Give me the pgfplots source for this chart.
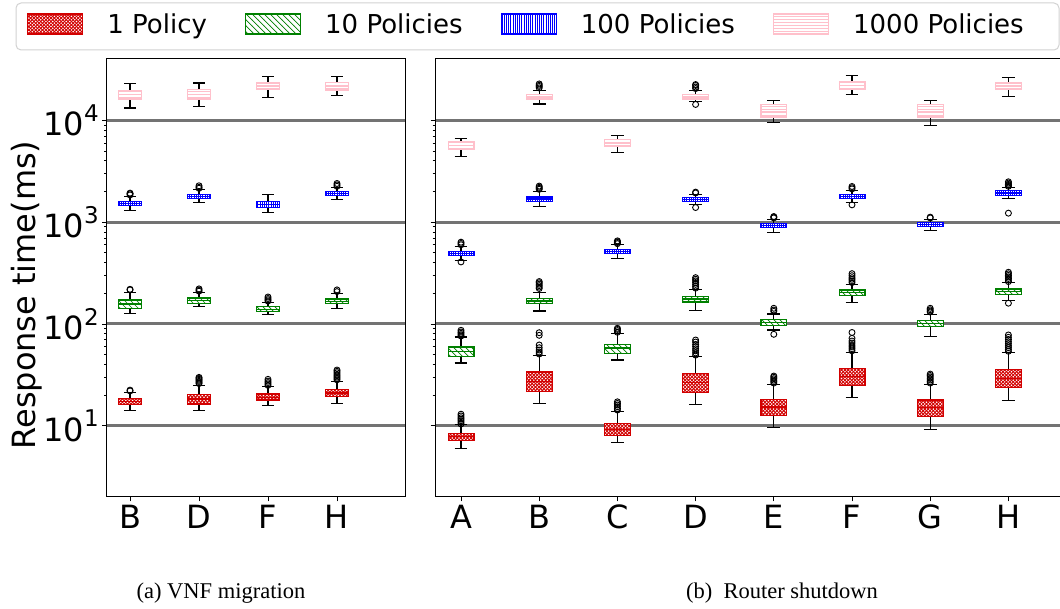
\documentclass[border=0pt]{standalone}
\usepackage{fontspec}
\setmainfont{DejaVu Sans}
\newfontfamily\capfont{Liberation Serif}
\usepackage{pgfplots}
\pgfplotsset{compat=1.18}
\usetikzlibrary{patterns}

\definecolor{pRed}{RGB}{210,0,0}
\definecolor{pGreen}{RGB}{0,128,0}
\definecolor{pBlue}{RGB}{0,0,255}
\definecolor{pPink}{RGB}{255,192,203}
\definecolor{gridgray}{RGB}{115,115,115}
\definecolor{legframe}{RGB}{210,210,210}

% hatch patterns
\pgfdeclarepatternformonly{wdots}{\pgfqpoint{-1pt}{-1pt}}{\pgfqpoint{4.4pt}{4.4pt}}{\pgfqpoint{3.4pt}{3.4pt}}{%
  \pgfpathcircle{\pgfqpoint{0pt}{0pt}}{0.85pt}%
  \pgfpathcircle{\pgfqpoint{1.7pt}{1.7pt}}{0.85pt}%
  \pgfusepath{fill}}
\pgfdeclarepatternformonly{widenw}{\pgfqpoint{-1pt}{-1pt}}{\pgfqpoint{7pt}{7pt}}{\pgfqpoint{6pt}{6pt}}{%
  \pgfsetlinewidth{0.7pt}%
  \pgfpathmoveto{\pgfqpoint{0pt}{6pt}}\pgfpathlineto{\pgfqpoint{6.1pt}{-0.1pt}}%
  \pgfusepath{stroke}}
\pgfdeclarepatternformonly{densev}{\pgfpointorigin}{\pgfqpoint{1pt}{100sp}}{\pgfqpoint{2.2pt}{100sp}}{%
  \pgfsetlinewidth{1pt}%
  \pgfpathmoveto{\pgfqpoint{0.5pt}{0pt}}\pgfpathlineto{\pgfqpoint{0.5pt}{100sp}}%
  \pgfusepath{stroke}}
\pgfdeclarepatternformonly{denseh}{\pgfpointorigin}{\pgfqpoint{100sp}{1pt}}{\pgfqpoint{100sp}{3pt}}{%
  \pgfsetlinewidth{0.8pt}%
  \pgfpathmoveto{\pgfqpoint{0pt}{0.5pt}}\pgfpathlineto{\pgfqpoint{100sp}{0.5pt}}%
  \pgfusepath{stroke}}

% fills of the four policy counts
\tikzset{
  redbox/.style={draw=pRed, line width=1.2pt, fill=pRed, postaction={pattern=wdots, pattern color=white}},
  greenbox/.style={draw=pGreen, line width=1.2pt, fill=white, postaction={pattern=widenw, pattern color=pGreen}},
  bluebox/.style={draw=pBlue, line width=1.2pt, fill=white, postaction={pattern=densev, pattern color=pBlue}},
  pinkbox/.style={draw=pPink, line width=1.2pt, fill=white, postaction={pattern=denseh, pattern color=pPink}},
  redmed/.style={draw=pRed, line width=1.2pt},
  greenmed/.style={draw=pGreen, line width=1.2pt},
  bluemed/.style={draw=pBlue, line width=1.2pt},
  pinkmed/.style={draw=pPink, line width=1.2pt},
}
\pgfplotsset{
  whisk/.style={black, line width=1.1pt, mark=none},
  flier/.style={only marks, mark=o, mark size=3pt, mark options={black, line width=0.9pt}},
}

% one box: colour, position, lower whisker, Q1, median, Q3, upper whisker
\newcommand{\bx}[7]{%
  \pgfmathsetmacro{\bxL}{#2-\bw}\pgfmathsetmacro{\bxR}{#2+\bw}%
  \pgfmathsetmacro{\cpL}{#2-\cw}\pgfmathsetmacro{\cpR}{#2+\cw}%
  \addplot[whisk] coordinates {(#2,#3) (#2,#4)};
  \addplot[whisk] coordinates {(#2,#6) (#2,#7)};
  \addplot[whisk] coordinates {(\cpL,#3) (\cpR,#3)};
  \addplot[whisk] coordinates {(\cpL,#7) (\cpR,#7)};
  \addplot[#1box, mark=none] coordinates {(\bxL,#4) (\bxR,#4) (\bxR,#6) (\bxL,#6)} -- cycle;
  \addplot[#1med, mark=none] coordinates {(\bxL,#5) (\bxR,#5)};
}
\newcommand{\ex}[1]{\raisebox{0.45em}{\fontsize{23}{23}\selectfont #1}}

\begin{document}
\begin{tikzpicture}
\useasboundingbox (0,0) rectangle (1060pt,608pt);

% legend frame
\draw[legframe, line width=1pt, rounded corners=5pt, fill=white] (16pt,558pt) rectangle (1059pt,605pt);

% (a) VNF migration
\def\bw{0.17}\def\cw{0.085}
\begin{axis}[
  scale only axis, height=438pt,
  ymode=log, ymin=2, ymax=40000,
  ytick={10,100,1000,10000},
  ymajorgrids, major grid style={line width=3pt, gridgray},
  tick align=outside, xtick pos=left, ytick pos=left,
  major tick length=4.5pt, minor tick length=2.5pt,
  tick style={black, line width=0.8pt},
  axis line style={black, line width=1pt},
  ticklabel style={font=\fontsize{32}{36}\selectfont},
  at={(106.7pt,111pt)}, anchor=south west, width=298.6pt,
  xmin=0.662, xmax=4.99,
  xtick={1,2,3,4}, xticklabels={B,D,F,H},
  yticklabels={10\ex{1},10\ex{2},10\ex{3},10\ex{4}},
  legend columns=4,
  legend style={at={(axis description cs:-0.2669,1.0799)}, anchor=west,
    draw=none, fill=none, inner sep=0pt,
    font=\fontsize{26}{30}\selectfont,
    /tikz/every odd column/.append style={column sep=22pt},
    /tikz/every even column/.append style={column sep=36pt}},
]
\addlegendimage{legend image code/.code={\draw[redbox] (0pt,-10pt) rectangle (55pt,10pt);}}
\addlegendentry{1 Policy}
\addlegendimage{legend image code/.code={\draw[greenbox] (0pt,-10pt) rectangle (55pt,10pt);}}
\addlegendentry{10 Policies}
\addlegendimage{legend image code/.code={\draw[bluebox] (0pt,-10pt) rectangle (55pt,10pt);}}
\addlegendentry{100 Policies}
\addlegendimage{legend image code/.code={\draw[pinkbox] (0pt,-10pt) rectangle (55pt,10pt);}}
\addlegendentry{1000 Policies}

% B
\bx{red}{1}{14.0}{16.1}{17.2}{18.4}{21.3}
\addplot[flier] coordinates {(1,22.0) (1,22.4)};
\bx{green}{1}{127}{141}{157}{172}{203}
\addplot[flier] coordinates {(1,216) (1,219)};
\bx{blue}{1}{1300}{1445}{1514}{1583}{1786}
\addplot[flier] coordinates {(1,1850) (1,1900) (1,1927)};
\bx{pink}{1}{13210}{16200}{17850}{19690}{23060}
% D
\bx{red}{2}{14.0}{16.4}{18.3}{20.4}{25.1}
\addplot[flier] coordinates {(2,26.0) (2,26.6) (2,27.3) (2,28.0) (2,28.7) (2,29.4) (2,29.9)};
\bx{green}{2}{147}{158}{169}{180}{205}
\addplot[flier] coordinates {(2,210) (2,215) (2,221)};
\bx{blue}{2}{1573}{1706}{1795}{1884}{2093}
\addplot[flier] coordinates {(2,2150) (2,2200) (2,2275)};
\bx{pink}{2}{13710}{16200}{17850}{20000}{23270}
% F
\bx{red}{3}{15.9}{17.9}{19.1}{20.5}{24.2}
\addplot[flier] coordinates {(3,25.0) (3,25.8) (3,26.6) (3,27.5) (3,28.6)};
\bx{green}{3}{123}{133}{140}{148}{162}
\addplot[flier] coordinates {(3,168) (3,173) (3,178) (3,184)};
\bx{blue}{3}{1254}{1392}{1490}{1594}{1854}
\bx{pink}{3}{16680}{20140}{21400}{23270}{26680}
% H
\bx{red}{4}{16.7}{19.3}{21.0}{22.8}{27.5}
\addplot[flier] coordinates {(4,28.3) (4,29.2) (4,30.1) (4,31.0) (4,32.0) (4,33.2) (4,34.3) (4,35.3)};
\bx{green}{4}{143}{158}{167}{176}{200}
\addplot[flier] coordinates {(4,208) (4,216)};
\bx{blue}{4}{1683}{1826}{1911}{2000}{2188}
\addplot[flier] coordinates {(4,2250) (4,2320) (4,2396)};
\bx{pink}{4}{17460}{19860}{21350}{23610}{26680}
\end{axis}

% (b) Router shutdown
\def\bw{0.165}\def\cw{0.0825}
\begin{axis}[
  scale only axis, height=438pt,
  ymode=log, ymin=2, ymax=40000,
  ytick={10,100,1000,10000},
  ymajorgrids, major grid style={line width=3pt, gridgray},
  tick align=outside, xtick pos=left, ytick pos=left,
  major tick length=4.5pt, minor tick length=2.5pt,
  tick style={black, line width=0.8pt},
  axis line style={black, line width=1pt},
  ticklabel style={font=\fontsize{32}{36}\selectfont},
  at={(435pt,111pt)}, anchor=south west, width=651.6pt,
  xmin=0.6675, xmax=9,
  xtick={1,2,3,4,5,6,7,8}, xticklabels={A,B,C,D,E,F,G,H},
  yticklabels={},
]
% A
\bx{red}{1}{5.94}{7.19}{7.83}{8.47}{10.2}
\addplot[flier] coordinates {(1,10.4) (1,10.8) (1,11.2) (1,11.6) (1,12.0) (1,12.5) (1,13.0)};
\bx{green}{1}{41.4}{48.1}{53.7}{59.4}{74.5}
\addplot[flier] coordinates {(1,76.2) (1,78.5) (1,81.0) (1,83.5) (1,86.7)};
\bx{blue}{1}{419}{474}{496}{519}{581}
\addplot[flier] coordinates {(1,600) (1,618) (1,636) (1,407)};
\bx{pink}{1}{4457}{5222}{5664}{6117}{6637}
% B
\bx{red}{2}{16.7}{21.9}{27.2}{33.7}{49.2}
\addplot[flier] coordinates {(2,50.7) (2,53.0) (2,55.5) (2,58.5) (2,62.2) (2,77.4) (2,82.1)};
\bx{green}{2}{134}{158}{168}{179}{205}
\addplot[flier] coordinates {(2,223) (2,230) (2,238) (2,246) (2,254) (2,261)};
\bx{blue}{2}{1424}{1609}{1684}{1762}{2000}
\addplot[flier] coordinates {(2,2100) (2,2150) (2,2200) (2,2260)};
\bx{pink}{2}{14450}{16200}{17000}{17870}{19680}
\addplot[flier] coordinates {(2,20800) (2,21500) (2,22100) (2,22750)};
% C
\bx{red}{3}{6.8}{8.1}{9.28}{10.46}{13.95}
\addplot[flier] coordinates {(3,14.3) (3,14.8) (3,15.4) (3,16.0) (3,16.6) (3,17.2)};
\bx{green}{3}{44.3}{51.5}{58.0}{63.1}{80.3}
\addplot[flier] coordinates {(3,83.0) (3,86.0) (3,88.5) (3,90.7)};
\bx{blue}{3}{443}{491}{514}{538}{598}
\addplot[flier] coordinates {(3,615) (3,630) (3,642) (3,655)};
\bx{pink}{3}{4798}{5538}{5983}{6444}{7103}
% D
\bx{red}{4}{16.2}{21.3}{26.5}{32.7}{48.4}
\addplot[flier] coordinates {(4,49.5) (4,52.0) (4,54.5) (4,57.0) (4,60.0) (4,63.0) (4,66.5) (4,69.6)};
\bx{green}{4}{137}{164.6}{176}{187}{216}
\addplot[flier] coordinates {(4,225) (4,235) (4,245) (4,255) (4,265) (4,275) (4,285)};
\bx{blue}{4}{1496}{1594}{1670}{1746}{1875}
\addplot[flier] coordinates {(4,1935) (4,1972) (4,1392)};
\bx{pink}{4}{15240}{16200}{17000}{17870}{19680}
\addplot[flier] coordinates {(4,20500) (4,21200) (4,22000) (4,22440) (4,14320)};
% E
\bx{red}{5}{9.55}{12.65}{15.3}{18.2}{25.5}
\addplot[flier] coordinates {(5,26.3) (5,27.2) (5,28.1) (5,29.0) (5,30.0) (5,30.8)};
\bx{green}{5}{87.3}{97}{104}{111}{125.3}
\addplot[flier] coordinates {(5,133) (5,137) (5,142.6) (5,79.2)};
\bx{blue}{5}{797}{879}{923}{968}{1070}
\addplot[flier] coordinates {(5,1100) (5,1120) (5,1135)};
\bx{pink}{5}{9530}{10770}{12230}{14240}{15700}
% F
\bx{red}{6}{19.0}{24.9}{30.3}{36.7}{53.0}
\addplot[flier] coordinates {(6,54.5) (6,57.0) (6,59.5) (6,62.0) (6,65.0) (6,68.0) (6,72.3) (6,82.5)};
\bx{green}{6}{162}{190}{203}{216}{245}
\addplot[flier] coordinates {(6,255) (6,265) (6,275) (6,285) (6,298) (6,312)};
\bx{blue}{6}{1549}{1721}{1800}{1884}{2064}
\addplot[flier] coordinates {(6,2120) (6,2180) (6,2240) (6,1479)};
\bx{pink}{6}{17970}{20140}{21800}{23800}{27270}
% G
\bx{red}{7}{9.2}{12.3}{15.1}{17.9}{25.5}
\addplot[flier] coordinates {(7,26.3) (7,27.2) (7,28.2) (7,29.2) (7,30.2) (7,31.2) (7,32.2)};
\bx{green}{7}{75.7}{94.9}{101}{107.8}{124.6}
\addplot[flier] coordinates {(7,131) (7,134) (7,138) (7,142.6)};
\bx{blue}{7}{834}{913}{947}{984}{1070}
\addplot[flier] coordinates {(7,1100) (7,1119)};
\bx{pink}{7}{8980}{10770}{12230}{14240}{15700}
% H
\bx{red}{8}{17.6}{23.9}{29.4}{35.9}{52.7}
\addplot[flier] coordinates {(8,54) (8,56) (8,58.5) (8,61) (8,64) (8,67) (8,70.5) (8,74) (8,78)};
\bx{green}{8}{171}{196}{208}{221}{253}
\addplot[flier] coordinates {(8,261) (8,270) (8,280) (8,290) (8,300) (8,311) (8,322) (8,160)};
\bx{blue}{8}{1694}{1843}{1935}{2032}{2188}
\addplot[flier] coordinates {(8,2250) (8,2300) (8,2350) (8,2420) (8,2490) (8,1225)};
\bx{pink}{8}{17180}{20140}{21600}{23270}{26420}
\end{axis}

\node[rotate=90, font=\fontsize{32}{38}\selectfont] at (27pt,313pt) {Response time(ms)};
\node[anchor=base, font=\capfont\fontsize{22.5}{26}\selectfont] at (221pt,10pt) {(a) VNF migration};
\node[anchor=base, font=\capfont\fontsize{22.5}{26}\selectfont] at (782pt,10pt) {(b)\ \ Router shutdown};
\end{tikzpicture}
\end{document}
